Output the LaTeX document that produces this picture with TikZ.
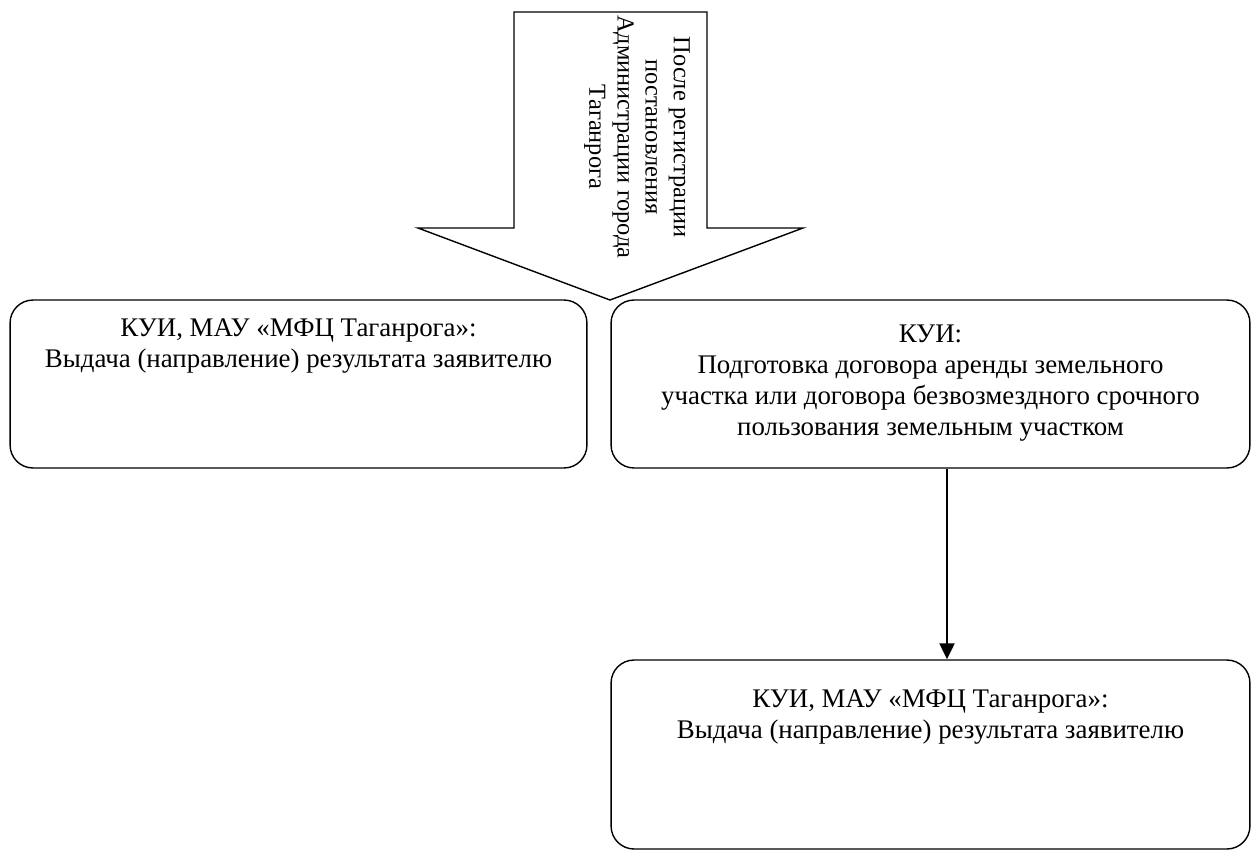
\documentclass[tikz,border=0pt]{standalone}
\usepackage{fontspec}
\setmainfont{Liberation Serif}
\usepackage{tikz}
\usetikzlibrary{arrows.meta,positioning}

\begin{document}
\begin{tikzpicture}[
    x=0.02cm, y=-0.02cm,
    stage/.style={rectangle, rounded corners=0.46cm, draw, line width=0.8pt, minimum width=11.54cm, minimum height=3.36cm, inner sep=0pt},
    stagetxt/.style={align=center, inner sep=0pt, font=\fontsize{15.3}{17.6}\selectfont},
    condtxt/.style={align=center, inner sep=0pt, font=\fontsize{13.9}{16}\selectfont},
    arrow/.style={-{Triangle[length=0.32cm, width=0.3cm]}, line width=1.2pt}
]
\useasboundingbox (0,0) rectangle (1251,850);

% Block arrow
\draw[line width=0.8pt, line join=miter]
    (514,12) -- (707,12) -- (707,228) -- (803,228) -- (610,300) -- (418,228) -- (514,228) -- cycle;
\node[condtxt, rotate=-90] (cond) at (637,137) {После регистрации\\постановления\\Администрации города\\Таганрога};

% Stages
\node[stage] (issueA) at (298.5,384) {};
\node[stage, minimum width=12.78cm] (draft) at (930.5,384) {};
\node[stage, minimum width=12.78cm, minimum height=3.78cm] (issueB) at (930.5,754.5) {};

\node[stagetxt, anchor=north] (issueAt) at ([yshift=-0.3cm]issueA.north) {\strut КУИ, МАУ «МФЦ Таганрога»:\\Выдача (направление) результата заявителю};
\node[stagetxt, anchor=north] (draftt) at ([yshift=-0.42cm]draft.north) {\strut КУИ:\\Подготовка договора аренды земельного\\участка или договора безвозмездного срочного\\пользования земельным участком};
\node[stagetxt, anchor=north] (issueBt) at ([yshift=-0.52cm]issueB.north) {\strut КУИ, МАУ «МФЦ Таганрога»:\\Выдача (направление) результата заявителю};

% Flow
\draw[arrow] ([xshift=0.33cm]draft.south) -- ([xshift=0.33cm]issueB.north);

\end{tikzpicture}
\end{document}
